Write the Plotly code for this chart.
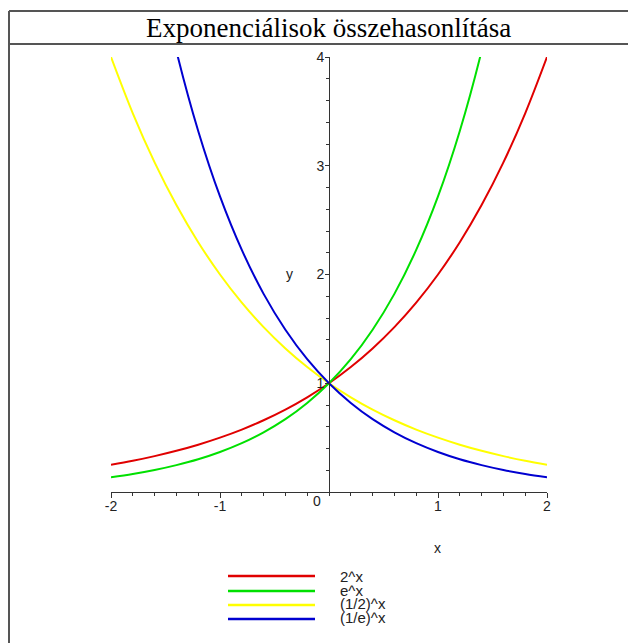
import plotly.graph_objects as go

# ---- data ----
x_vals = [-2.0, -1.8, -1.6, -1.4, -1.2, -1.0, -0.8, -0.6, -0.4, -0.2, 0.0,
          0.2, 0.4, 0.6, 0.8, 1.0, 1.2, 1.4, 1.6, 1.8, 2.0]
two_x = [0.250, 0.287, 0.330, 0.379, 0.435, 0.500, 0.574, 0.660, 0.758, 0.871, 1.000,
         1.149, 1.320, 1.516, 1.741, 2.000, 2.297, 2.639, 3.031, 3.482, 4.000]
e_x = [0.135, 0.165, 0.202, 0.247, 0.301, 0.368, 0.449, 0.549, 0.670, 0.819, 1.000,
       1.221, 1.492, 1.822, 2.226, 2.718, 3.320, 4.055, 4.953, 6.050, 7.389]
half_x = [4.000, 3.482, 3.031, 2.639, 2.297, 2.000, 1.741, 1.516, 1.320, 1.149, 1.000,
          0.871, 0.758, 0.660, 0.574, 0.500, 0.435, 0.379, 0.330, 0.287, 0.250]
inv_e_x = [7.389, 6.050, 4.953, 4.055, 3.320, 2.718, 2.226, 1.822, 1.492, 1.221, 1.000,
           0.819, 0.670, 0.549, 0.449, 0.368, 0.301, 0.247, 0.202, 0.165, 0.135]

series_names = ["2^x", "e^x", "(1/2)^x", "(1/e)^x"]
series_data = [two_x, e_x, half_x, inv_e_x]
series_colors = ["#e00000", "#00e000", "#ffff00", "#0000d0"]

x_ticks = [-2, -1, 1, 2]
y_ticks = [1, 2, 3, 4]
title_text = "Exponenciálisok összehasonlítása"

OFF = 8  # page body margin
W, H = 636 - OFF, 643 - OFF
L, R, T, B = 111, 547, 57, 492  # plot area in window pixels


def px_x(p):
    return (p - L) / (R - L)


def px_y(p):
    return (B - p) / (B - T)


fig = go.Figure()
for name, ys, col in zip(series_names, series_data, series_colors):
    fig.add_trace(go.Scatter(x=x_vals, y=ys, mode="lines", name=name,
                             line=dict(color=col, width=2, shape="spline"),
                             showlegend=False, hoverinfo="skip"))

tick_font = dict(family="Liberation Sans, Arial, sans-serif", size=14, color="#222")
leg_font = dict(family="Liberation Sans, Arial, sans-serif", size=15, color="#222")

fig.update_layout(
    width=W, height=H,
    margin=dict(l=L - OFF, r=W + OFF - R, t=T - OFF, b=H + OFF - B, pad=0),
    paper_bgcolor="white", plot_bgcolor="white",
    showlegend=False,
    xaxis=dict(range=[-2, 2], showgrid=False, zeroline=False,
               showline=True, linecolor="#333", linewidth=1,
               ticks="outside", ticklen=5, tickcolor="#333",
               tickvals=x_ticks, ticktext=[str(v) for v in x_ticks],
               tickfont=tick_font, ticklabelstandoff=-4,
               minor=dict(dtick=0.2, tick0=0, ticks="outside", ticklen=3, tickcolor="#333"),
               anchor="y"),
    yaxis=dict(range=[0, 4], showgrid=False, zeroline=False,
               showline=True, linecolor="#333", linewidth=1,
               ticks="outside", ticklen=4, tickcolor="#333",
               tickvals=y_ticks, ticktext=[str(v) for v in y_ticks],
               tickfont=tick_font, ticklabelstandoff=-2,
               minor=dict(dtick=0.2, tick0=0, ticks="outside", ticklen=3, tickcolor="#333"),
               anchor="free", position=0.5),
)

shapes = []
frame_col = "#555"
shapes.append(dict(type="line", xref="paper", yref="paper",
                   x0=px_x(9), x1=px_x(9), y0=px_y(11), y1=px_y(650),
                   line=dict(color=frame_col, width=2)))
shapes.append(dict(type="line", xref="paper", yref="paper",
                   x0=px_x(9), x1=px_x(645), y0=px_y(11), y1=px_y(11),
                   line=dict(color=frame_col, width=2)))
shapes.append(dict(type="line", xref="paper", yref="paper",
                   x0=px_x(9), x1=px_x(645), y0=px_y(44), y1=px_y(44),
                   line=dict(color=frame_col, width=2)))

annotations = [
    dict(text=title_text, xref="paper", yref="paper", x=px_x(328), y=px_y(28),
         showarrow=False, xanchor="center", yanchor="middle",
         font=dict(family="Liberation Serif, Times New Roman, serif", size=27, color="black")),
    dict(text="0", xref="paper", yref="paper", x=px_x(317), y=px_y(501),
         showarrow=False, xanchor="center", yanchor="middle", font=tick_font),
    dict(text="x", xref="paper", yref="paper", x=px_x(437), y=px_y(548),
         showarrow=False, xanchor="center", yanchor="middle", font=tick_font),
    dict(text="y", xref="paper", yref="paper", x=px_x(289), y=px_y(274),
         showarrow=False, xanchor="center", yanchor="middle", font=tick_font),
]

leg_line_y = [576, 591, 605, 619]
leg_text_y = [576, 590, 603, 617]
for name, col, ly, ty in zip(series_names, series_colors, leg_line_y, leg_text_y):
    shapes.append(dict(type="line", xref="paper", yref="paper",
                       x0=px_x(228), x1=px_x(315), y0=px_y(ly), y1=px_y(ly),
                       line=dict(color=col, width=2.5)))
    annotations.append(dict(text=name, xref="paper", yref="paper",
                            x=px_x(338), y=px_y(ty), showarrow=False,
                            xanchor="left", yanchor="middle", font=leg_font))

fig.update_layout(shapes=shapes, annotations=annotations)

fig.write_html("out.html")
